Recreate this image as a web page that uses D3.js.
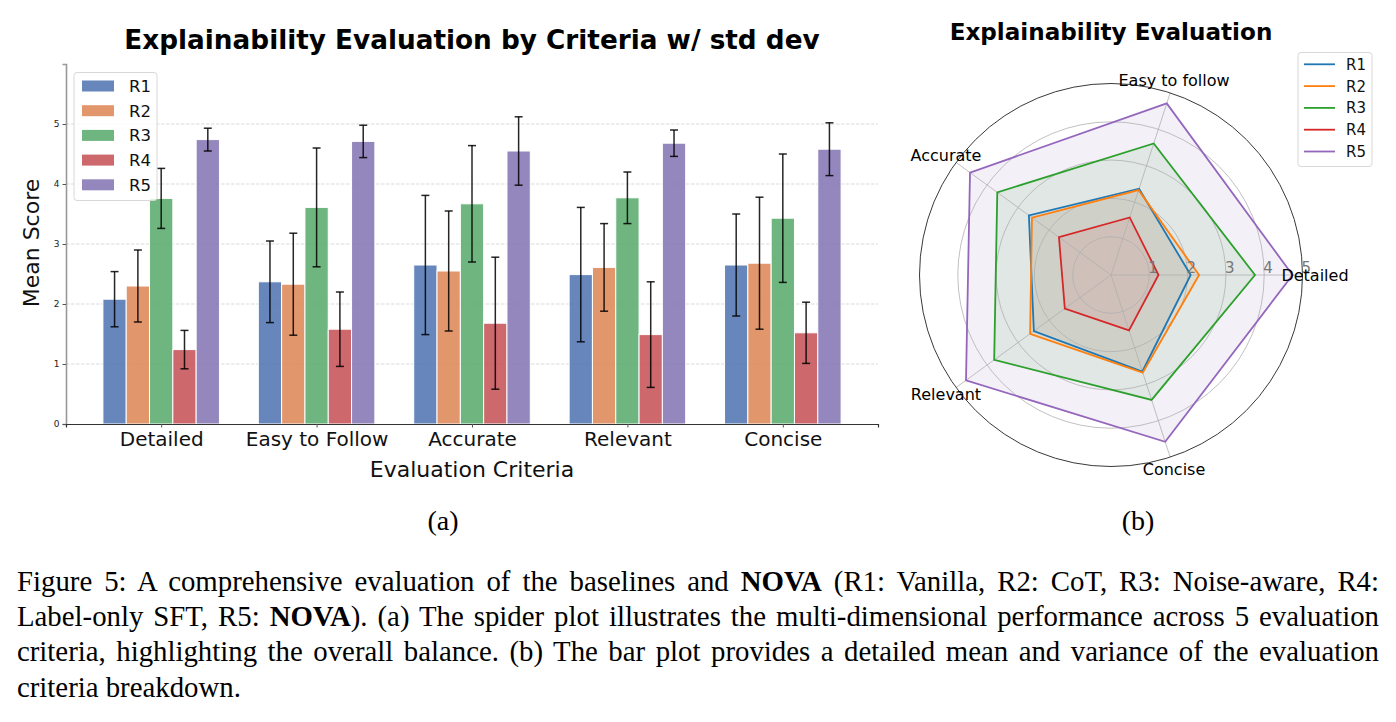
<!DOCTYPE html>
<html>
<head>
<meta charset="utf-8">
<script src="https://cdn.jsdelivr.net/npm/d3@7"></script>
<style>
  body { margin: 0; background: #fff; width: 1396px; height: 722px; overflow: hidden; position: relative; }
  svg { position: absolute; left: 0; top: 0; }
  .cap { position: absolute; left: 17px; width: 1362px; font-family: "Liberation Serif", "Times New Roman", serif;
         font-size: 28.8px; line-height: 35px; height: 35px; white-space: nowrap; color: #000; }
  .just { text-align: justify; text-align-last: justify; }
</style>
</head>
<body>
<svg id="fig" width="1396" height="722"></svg>
<div class="cap just" style="top:564px">Figure 5: A comprehensive evaluation of the baselines and <b>NOVA</b> (R1: Vanilla, R2: CoT, R3: Noise-aware, R4:</div>
<div class="cap just" style="top:599px">Label-only SFT, R5: <b>NOVA</b>). (a) The spider plot illustrates the multi-dimensional performance across 5 evaluation</div>
<div class="cap just" style="top:634px">criteria, highlighting the overall balance. (b) The bar plot provides a detailed mean and variance of the evaluation</div>
<div class="cap" style="top:670px">criteria breakdown.</div>
<script>
const criteria = ['Detailed', 'Easy to Follow', 'Accurate', 'Relevant', 'Concise']
const radarLabels = ['Detailed', 'Easy to follow', 'Accurate', 'Relevant', 'Concise']
const seriesNames = ['R1', 'R2', 'R3', 'R4', 'R5']

// mean score per criterion, one array per series
const r1Mean = [2.08, 2.37, 2.65, 2.49, 2.65]
const r2Mean = [2.30, 2.33, 2.55, 2.61, 2.68]
const r3Mean = [3.76, 3.61, 3.67, 3.77, 3.43]
const r4Mean = [1.24, 1.58, 1.68, 1.49, 1.52]
const r5Mean = [4.74, 4.71, 4.55, 4.68, 4.58]

// std dev per criterion
const r1Std = [0.46, 0.68, 1.16, 1.12, 0.85]
const r2Std = [0.60, 0.85, 1.00, 0.73, 1.10]
const r3Std = [0.50, 0.99, 0.97, 0.43, 1.07]
const r4Std = [0.32, 0.62, 1.10, 0.88, 0.51]
const r5Std = [0.19, 0.27, 0.57, 0.22, 0.44]

const yTicks = [0, 1, 2, 3, 4, 5]
const rTicks = [1, 2, 3, 4, 5]

const means = [r1Mean, r2Mean, r3Mean, r4Mean, r5Mean]
const stds = [r1Std, r2Std, r3Std, r4Std, r5Std]

const barColors = ['#4C72B0', '#DD8452', '#55A868', '#C44E52', '#8172B3']
const lineColors = ['#1f77b4', '#ff7f0e', '#2ca02c', '#d62728', '#9467bd']
const sans = 'DejaVu Sans, sans-serif'

const svg = d3.select('#fig')

// ---------- (a) bar chart ----------
const bw = 0.15
const x = d3.scaleLinear().domain([-0.6125, 4.6125]).range([66, 878])
const y = d3.scaleLinear().domain([0, 6]).range([424, 64])

const gBar = svg.append('g')

// dashed grid
gBar.append('g').selectAll('line')
  .data(yTicks.filter(d => d > 0))
  .enter().append('line')
    .attr('x1', x.range()[0]).attr('x2', x.range()[1])
    .attr('y1', d => y(d)).attr('y2', d => y(d))
    .attr('stroke', '#b0b0b0').attr('stroke-opacity', 0.6)
    .attr('stroke-dasharray', '3.5,1.5').attr('stroke-width', 0.8)

let rows = []
means.forEach((arr, s) => arr.forEach((v, c) => rows.push({s: s, c: c, v: v, sd: stds[s][c]})))

gBar.append('g').selectAll('rect')
  .data(rows)
  .enter().append('rect')
    .attr('x', d => x(d.c + (d.s - 2) * bw - bw / 2))
    .attr('width', d => x(bw) - x(0))
    .attr('y', d => y(d.v))
    .attr('height', d => y(0) - y(d.v))
    .attr('fill', d => barColors[d.s])
    .attr('fill-opacity', 0.85)
    .attr('stroke', '#fff').attr('stroke-width', 1)

// error bars
const eb = gBar.append('g').attr('stroke', '#000').attr('stroke-opacity', 0.85).attr('stroke-width', 1.5)
  .selectAll('g').data(rows).enter().append('g')
eb.append('line')
  .attr('x1', d => x(d.c + (d.s - 2) * bw)).attr('x2', d => x(d.c + (d.s - 2) * bw))
  .attr('y1', d => y(d.v - d.sd)).attr('y2', d => y(d.v + d.sd))
eb.selectAll('.cap').data(d => [d.v - d.sd, d.v + d.sd].map(e => ({xc: x(d.c + (d.s - 2) * bw), e: e})))
  .enter().append('line')
    .attr('x1', d => d.xc - 4).attr('x2', d => d.xc + 4)
    .attr('y1', d => y(d.e)).attr('y2', d => y(d.e))

// axes
const yAxis = gBar.append('g').attr('transform', 'translate(66,0)')
  .call(d3.axisLeft(y).tickValues(yTicks).tickFormat(d3.format('d')).tickSize(3.5).tickPadding(3))
yAxis.select('.domain').attr('stroke', '#999').attr('stroke-width', 1.6)
yAxis.selectAll('.tick line').attr('stroke', '#555')
yAxis.selectAll('text').attr('font-family', sans).attr('font-size', 9).attr('fill', '#222')

const xAxis = gBar.append('g').attr('transform', 'translate(0,424)')
  .call(d3.axisBottom(x).tickValues(d3.range(criteria.length)).tickFormat(i => criteria[i]).tickSize(3.5).tickPadding(4))
xAxis.select('.domain').attr('stroke', '#333').attr('stroke-width', 1.2)
xAxis.selectAll('.tick line').attr('stroke', '#555')
xAxis.selectAll('text').attr('font-family', sans).attr('font-size', 20).attr('fill', '#111')

svg.append('text').attr('x', 472).attr('y', 477).attr('text-anchor', 'middle')
  .attr('font-family', sans).attr('font-size', 22).attr('fill', '#111').text('Evaluation Criteria')
svg.append('text').attr('transform', 'translate(39,243) rotate(-90)').attr('text-anchor', 'middle')
  .attr('font-family', sans).attr('font-size', 22).attr('fill', '#111').text('Mean Score')
svg.append('text').attr('x', 472).attr('y', 49).attr('text-anchor', 'middle')
  .attr('font-family', sans).attr('font-weight', 'bold').attr('font-size', 26.3).text('Explainability Evaluation by Criteria w/ std dev')

// legend
const leg = svg.append('g')
leg.append('rect').attr('x', 74).attr('y', 72.5).attr('width', 83).attr('height', 128).attr('rx', 3)
  .attr('fill', '#fff').attr('fill-opacity', 0.8).attr('stroke', '#d8d8d8')
const li = leg.selectAll('g.it').data(seriesNames).enter().append('g')
  .attr('transform', (d, i) => `translate(0,${86 + i * 24.7})`)
li.append('rect').attr('x', 82).attr('y', -5.5).attr('width', 32).attr('height', 11)
  .attr('fill', (d, i) => barColors[i]).attr('fill-opacity', 0.85)
li.append('text').attr('x', 129).attr('y', 6).attr('font-family', sans).attr('font-size', 16.5).attr('fill', '#111').text(d => d)

// ---------- (b) radar ----------
const cx = 1111, cy = 275
const r = d3.scaleLinear().domain([0, 5]).range([0, 191.5])
const ang = i => i * 2 * Math.PI / radarLabels.length
const pt = (i, v) => [cx + r(v) * Math.cos(ang(i)), cy - r(v) * Math.sin(ang(i))]

const gRad = svg.append('g')
means.forEach((arr, s) => {
  gRad.append('polygon')
    .attr('points', arr.map((v, i) => pt(i, v).join(',')).join(' '))
    .attr('fill', lineColors[s]).attr('fill-opacity', 0.1).attr('stroke', 'none')
})
// grid
gRad.selectAll('circle.grid').data(rTicks.slice(0, -1)).enter().append('circle')
  .attr('cx', cx).attr('cy', cy).attr('r', d => r(d))
  .attr('fill', 'none').attr('stroke', '#b0b0b0').attr('stroke-width', 0.8)
gRad.selectAll('line.spoke').data(radarLabels).enter().append('line')
  .attr('x1', cx).attr('y1', cy)
  .attr('x2', (d, i) => pt(i, 5)[0]).attr('y2', (d, i) => pt(i, 5)[1])
  .attr('stroke', '#b0b0b0').attr('stroke-width', 0.8)
const line = d3.line().curve(d3.curveLinearClosed)
means.forEach((arr, s) => {
  gRad.append('path')
    .attr('d', line(arr.map((v, i) => pt(i, v))))
    .attr('fill', 'none').attr('stroke', lineColors[s]).attr('stroke-width', 1.8)
})
gRad.append('circle').attr('cx', cx).attr('cy', cy).attr('r', r(5))
  .attr('fill', 'none').attr('stroke', '#222').attr('stroke-width', 0.9)

gRad.selectAll('text.rt').data(rTicks).enter().append('text')
  .attr('x', d => cx + r(d) - 1).attr('y', cy - 2.5)
  .attr('font-family', sans).attr('font-size', 15).attr('fill', '#777').text(d => d)

gRad.selectAll('text.ax').data(radarLabels).enter().append('text')
  .attr('x', (d, i) => cx + 204 * Math.cos(ang(i)))
  .attr('y', (d, i) => cy - 204 * Math.sin(ang(i)))
  .attr('text-anchor', 'middle').attr('dominant-baseline', 'central')
  .attr('font-family', sans).attr('font-size', 16).attr('fill', '#000').text(d => d)

svg.append('text').attr('x', 1111).attr('y', 40).attr('text-anchor', 'middle')
  .attr('font-family', sans).attr('font-weight', 'bold').attr('font-size', 23.1).text('Explainability Evaluation')

const leg2 = svg.append('g')
leg2.append('rect').attr('x', 1298).attr('y', 52.5).attr('width', 74).attr('height', 114).attr('rx', 3)
  .attr('fill', '#fff').attr('fill-opacity', 0.8).attr('stroke', '#d8d8d8')
const l2 = leg2.selectAll('g.it').data(seriesNames).enter().append('g')
  .attr('transform', (d, i) => `translate(0,${64.3 + i * 21.8})`)
l2.append('line').attr('x1', 1304).attr('x2', 1335).attr('y1', 0).attr('y2', 0)
  .attr('stroke', (d, i) => lineColors[i]).attr('stroke-width', 1.8)
l2.append('text').attr('x', 1346).attr('y', 5.5).attr('font-family', sans).attr('font-size', 15).attr('fill', '#111').text(d => d)

// sub-labels
svg.selectAll('text.sub').data([['(a)', 443], ['(b)', 1138]]).enter().append('text')
  .attr('x', d => d[1]).attr('y', 530).attr('text-anchor', 'middle')
  .attr('font-family', 'Liberation Serif, serif').attr('font-size', 28).text(d => d[0])
</script>
</body>
</html>
